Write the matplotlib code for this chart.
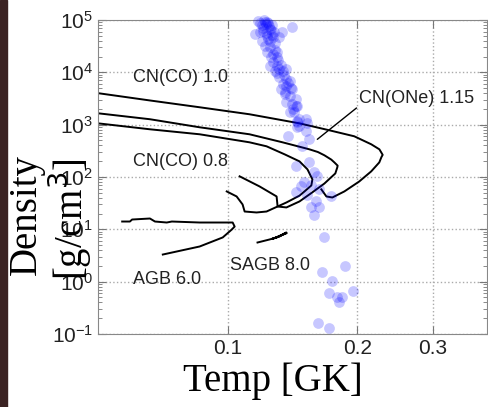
import numpy as np
import matplotlib
matplotlib.use("Agg")
import matplotlib.pyplot as plt
from matplotlib.ticker import FixedLocator, NullLocator, LogLocator, FixedFormatter

# ---- data (temperature in GK, density in g/cm^3) ----
# CN(ONe) 1.15 track
one115_T = [0.050, 0.066, 0.0861, 0.1124, 0.1468, 0.1722, 0.1967, 0.2154, 0.2250, 0.2270,
            0.2290, 0.2275, 0.2249, 0.2154, 0.2020, 0.1866, 0.1750, 0.1695, 0.1650]
one115_rho = [4.0e3, 2.9e3, 2.15e3, 1.58e3, 1.06e3, 781, 600, 422, 338, 300,
              265, 240, 190, 128, 82, 53, 40.6, 42.5, 58]

# CN(CO) 1.0 track
co10_T = [0.050, 0.066, 0.0861, 0.1124, 0.1341, 0.1548, 0.1620, 0.1677, 0.1740, 0.1769,
          0.1800, 0.1797, 0.1778, 0.1677, 0.1573, 0.1468, 0.1369, 0.1306, 0.1299, 0.1186,
          0.1066]
co10_rho = [1.65e3, 1.27e3, 891, 655, 460, 338, 300, 260, 215, 190,
            165, 153, 117, 75, 51, 34.1, 26.2, 27.3, 42.5, 66,
            103]

# CN(CO) 0.8 track
co08_T = [0.050, 0.066, 0.0861, 0.1124, 0.1231, 0.1356, 0.1468, 0.1532, 0.1573, 0.1564,
          0.1508, 0.1468, 0.1369, 0.1231, 0.1167, 0.1095, 0.1083, 0.1049, 0.0995]
co08_rho = [1.06e3, 816, 655, 460, 386, 271, 199, 140, 90, 69,
            53, 44, 32.6, 21.9, 21.0, 21.9, 29.9, 42.5, 53]

# AGB 6.0 track
agb_T = [0.0569, 0.0593, 0.0600, 0.0660, 0.0678, 0.0722, 0.0742, 0.0861, 0.1027, 0.1038,
         0.1022, 0.0974, 0.0861, 0.0707]
agb_rho = [14.1, 14.1, 15.4, 16.1, 14.1, 13.5, 14.1, 13.5, 13.5, 11.3,
           9.9, 7.0, 4.7, 3.3]

# SAGB 8.0 track
sagb_T = [0.1173, 0.1251, 0.1299, 0.1369, 0.1319, 0.1271, 0.1369]
sagb_rho = [5.6, 6.4, 7.0, 8.7, 7.3, 6.6, 8.4]

# scattered conditions (blue points)
pts_T = [0.1179, 0.1218, 0.1237, 0.1199, 0.1155, 0.1186, 0.1251, 0.1205, 0.1231, 0.1278,
         0.1334, 0.1199, 0.1251, 0.1218, 0.1271, 0.1237, 0.1264, 0.1299, 0.1271, 0.1251,
         0.1299, 0.1319, 0.1285, 0.1341, 0.1369, 0.1319, 0.1369, 0.1392, 0.1341, 0.1369,
         0.1414, 0.1356, 0.1392, 0.1444, 0.1369, 0.1414, 0.1452, 0.1392, 0.1429, 0.1407,
         0.1319, 0.1444, 0.1468, 0.1524, 0.1532, 0.1452, 0.1468, 0.1452, 0.1524, 0.1548,
         0.1491, 0.1444, 0.1548, 0.1590, 0.1615, 0.1444, 0.1532, 0.1633, 0.1741, 0.1564,
         0.1633, 0.1590, 0.1677, 0.1659, 0.1876, 0.1750, 0.1722, 0.1797, 0.1845, 0.1958,
         0.1624, 0.1722, 0.1816, 0.1483, 0.1377, 0.1452,
         0.1190, 0.1225, 0.1245, 0.1210, 0.1260, 0.1228, 0.1265, 0.1240, 0.1285, 0.1255,
         0.1290, 0.1275, 0.1310, 0.1330, 0.1300, 0.1350, 0.1380, 0.1400, 0.1330, 0.1212,
         0.1242, 0.1268, 0.1305, 0.1360, 0.1420, 0.1500, 0.1560, 0.1600]
pts_rho = [9.6e4, 9.2e4, 9.2e4, 8.0e4, 5.4e4, 5.9e4, 6.7e4, 6.2e4, 4.9e4, 5.9e4,
           5.9e4, 4.0e4, 4.0e4, 3.2e4, 4.7e4, 2.4e4, 2.0e4, 1.95e4, 1.57e4, 1.31e4,
           1.31e4, 1.15e4, 1.05e4, 1.07e4, 1.15e4, 8.1e3, 7.4e3, 6.8e3, 5.9e3, 5.4e3,
           4.8e3, 4.2e3, 3.5e3, 3.1e3, 2.7e3, 2.5e3, 2.25e3, 1.73e3, 1.73e3, 7.3e4,
           4.7e4, 2.25e3, 1.27e3, 1.27e3, 1.06e3, 1.11e3, 931, 891, 748, 540,
           386, 160, 190, 122, 103, 51, 46, 58, 44, 26.2,
           26.2, 18.4, 7.0, 1.56, 2.0, 1.04, 0.61, 0.52, 0.51, 0.67,
           0.164, 0.132, 0.40, 66, 600, 1.2e3,
           8.8e4, 8.4e4, 7.6e4, 7.0e4, 6.4e4, 5.6e4, 5.2e4, 4.4e4, 3.6e4, 3.0e4,
           2.7e4, 2.2e4, 1.7e4, 1.4e4, 9.5e3, 9.0e3, 6.2e3, 5.0e3, 4.8e3, 9.8e4,
           8.9e4, 7.9e4, 2.4e4, 3.9e3, 2.0e3, 80, 70, 35]

x_ticks = [0.1, 0.2, 0.3]
x_labels = ["0.1", "0.2", "0.3"]

labels = {
    "CN(CO) 1.0": (0.0603, 8.1e3),
    "CN(CO) 0.8": (0.0603, 199),
    "AGB 6.0": (0.0603, 1.09),
    "SAGB 8.0": (0.1011, 2.03),
}

plt.rcParams.update({"font.family": "Liberation Sans"})

fig = plt.figure(figsize=(4.88, 4.07), dpi=100)
fig.patches.append(plt.Rectangle((0, 0), 7 / 488, 1, transform=fig.transFigure,
                                 color="#3a2222", zorder=0))
ax = fig.add_axes([98 / 488, 1 - 334 / 407, 389 / 488, 314 / 407])

ax.scatter(pts_T, pts_rho, s=60, color="blue", alpha=0.22, lw=0, clip_on=False, zorder=3)

for T, rho in [(one115_T, one115_rho), (co10_T, co10_rho), (co08_T, co08_rho),
               (agb_T, agb_rho), (sagb_T, sagb_rho)]:
    ax.plot(T, rho, color="black", lw=1.4, zorder=2)

for txt, (tx, ty) in labels.items():
    ax.text(tx, ty, txt, fontsize=13, color="#222222", ha="left", va="center")
ax.annotate("CN(ONe) 1.15", xy=(0.1615, 525), xytext=(0.2021, 3.1e3),
            fontsize=13, color="#222222", ha="left", va="center",
            arrowprops=dict(arrowstyle="-", color="black", lw=1.0,
                            shrinkA=0, shrinkB=0, relpos=(0, 0.1)))

ax.set_xscale("log")
ax.set_yscale("log")
ax.set_xlim(0.05, 0.4)
ax.set_ylim(1e-1, 1e5)
ax.xaxis.set_major_locator(FixedLocator(x_ticks))
ax.xaxis.set_major_formatter(FixedFormatter(x_labels))
ax.xaxis.set_minor_locator(NullLocator())
ax.yaxis.set_major_locator(LogLocator(base=10, numticks=10))
ax.yaxis.set_minor_locator(LogLocator(base=10, subs=np.arange(2, 10), numticks=10))
ax.tick_params(which="both", direction="in", top=True, right=True, colors="#777777",
               labelcolor="#222222", labelsize=15)
ax.tick_params(which="major", length=6)
ax.tick_params(which="minor", length=3)
ax.grid(True, which="major", ls=":", color="#aaaaaa", lw=1.0)
for s in ax.spines.values():
    s.set_color("#888888")

fig.text(273 / 488, 1 - 381 / 407, "Temp [GK]", family="Liberation Serif", fontsize=28,
         ha="center", va="center")
fig.text(26 / 488, 1 - 215 / 407, "Density", family="Liberation Serif", fontsize=28,
         ha="center", va="center", rotation=90)
fig.text(70 / 488, 1 - 219 / 407, "[g/cm$^3$]", family="Liberation Serif", fontsize=28,
         ha="center", va="center", rotation=90)

fig.savefig("out.png", dpi=100)
